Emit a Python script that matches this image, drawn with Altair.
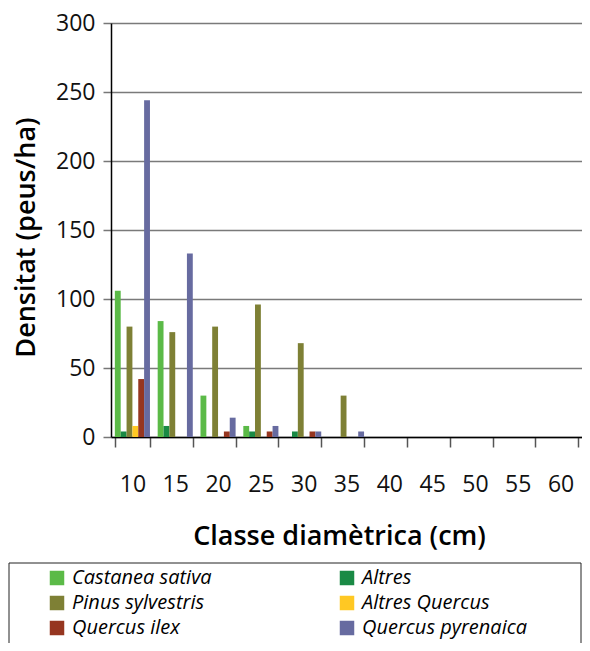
import altair as alt
import pandas as pd

classes = ["10", "15", "20", "25", "30", "35", "40", "45", "50", "55", "60"]
species = ["Castanea sativa", "Altres", "Pinus sylvestris",
           "Altres Quercus", "Quercus ilex", "Quercus pyrenaica"]
colors = ["#5bba47", "#1a8a45", "#7e8035", "#ffc823", "#963620", "#676ba0"]
# legend order (column-major: left column then right column)
legend_order = ["Castanea sativa", "Pinus sylvestris", "Quercus ilex",
                "Altres", "Altres Quercus", "Quercus pyrenaica"]

castanea_sativa = [106, 84, 30, 8, 0, 0, 0, 0, 0, 0, 0]
altres = [4, 8, 0, 4, 4, 0, 0, 0, 0, 0, 0]
pinus_sylvestris = [80, 76, 80, 96, 68, 30, 0, 0, 0, 0, 0]
altres_quercus = [8, 0, 0, 0, 0, 0, 0, 0, 0, 0, 0]
quercus_ilex = [42, 0, 4, 4, 4, 0, 0, 0, 0, 0, 0]
quercus_pyrenaica = [244, 133, 14, 8, 4, 4, 0, 0, 0, 0, 0]

series = [castanea_sativa, altres, pinus_sylvestris,
          altres_quercus, quercus_ilex, quercus_pyrenaica]

rows = []
for sp, vals in zip(species, series):
    for c, v in zip(classes, vals):
        rows.append({"classe": c, "especie": sp, "densitat": v})
df = pd.DataFrame(rows)

color_of = dict(zip(species, colors))
legend_colors = [color_of[s] for s in legend_order]

FONT = "Open Sans"

bars = alt.Chart(df).mark_bar().encode(
    x=alt.X("classe:N", sort=classes,
            scale=alt.Scale(paddingInner=0.18, paddingOuter=0.09),
            axis=alt.Axis(title="Classe diamètrica (cm)", labelAngle=0,
                          tickBand="extent", tickSize=10, tickColor="#555",
                          tickWidth=1.5, domainColor="#000", domainWidth=1.5,
                          labelFontSize=23, labelFont=FONT, labelColor="#111",
                          labelPadding=26, titleFont=FONT, titleFontSize=27,
                          titleFontWeight=600, titleColor="#000",
                          titlePadding=27, titleX=228, grid=False)),
    xOffset=alt.XOffset("especie:N", sort=species,
                        scale=alt.Scale(paddingInner=0, paddingOuter=0)),
    y=alt.Y("densitat:Q",
            scale=alt.Scale(domain=[0, 300], nice=False),
            axis=alt.Axis(title="Densitat (peus/ha)",
                          values=[0, 50, 100, 150, 200, 250, 300],
                          tickSize=8, tickColor="#777", tickWidth=1.5,
                          domainColor="#000", domainWidth=1.5,
                          labelFontSize=23, labelFont=FONT, labelColor="#111",
                          labelPadding=8, titleFont=FONT, titleFontSize=27,
                          titleFontWeight=600, titleColor="#000",
                          titlePadding=15, titleY=214,
                          grid=True, gridColor="#7a7a7a", gridWidth=1.4)),
    color=alt.Color("especie:N",
                    scale=alt.Scale(domain=legend_order, range=legend_colors),
                    legend=alt.Legend(
                        title=None,
                        orient="none", legendX=-64, legendY=545,
                        columns=2, columnPadding=125, rowPadding=5,
                        padding=0,
                        symbolType="square", symbolSize=210,
                        symbolStrokeWidth=0, symbolOpacity=1,
                        labelFont=FONT, labelFontStyle="italic",
                        labelFontSize=20, labelColor="#000",
                        labelOffset=5, labelLimit=400)),
)

frame = alt.Chart(pd.DataFrame({"k": [0]})).mark_rect(
    fillOpacity=0, stroke="#222", strokeWidth=1
).encode(
    x=alt.value(-102), x2=alt.value(470),
    y=alt.value(540), y2=alt.value(700),
)

chart = alt.layer(bars, frame).properties(
    width=471, height=414,
    autosize=alt.AutoSizeParams(type="none"),
    padding={"left": 103, "top": 15, "right": 0, "bottom": 206},
).configure_view(stroke=None).configure(background="white")

chart.save("out.html", embed_options={"renderer": "svg", "actions": False})
